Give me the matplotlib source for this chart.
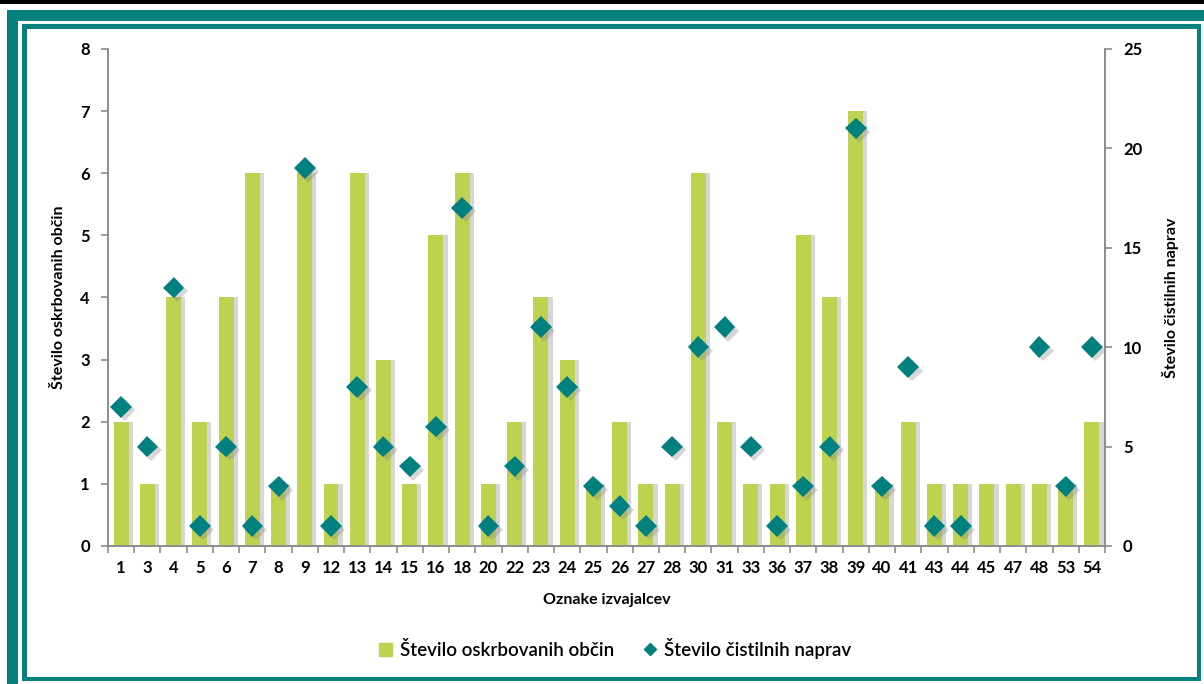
import matplotlib
matplotlib.use('Agg')
import matplotlib.pyplot as plt
import matplotlib.patheffects as pe
from matplotlib.patches import Rectangle
from matplotlib.lines import Line2D
import numpy as np

plt.rcParams['font.family'] = ['Lato', 'DejaVu Sans']

# data
labels = ['1', '3', '4', '5', '6', '7', '8', '9', '12', '13', '14', '15', '16', '18',
          '20', '22', '23', '24', '25', '26', '27', '28', '30', '31', '33', '36', '37',
          '38', '39', '40', '41', '43', '44', '45', '47', '48', '53', '54']
obcine = [2, 1, 4, 2, 4, 6, 1, 6, 1, 6, 3, 1, 5, 6,
          1, 2, 4, 3, 1, 2, 1, 1, 6, 2, 1, 1, 5,
          4, 7, 1, 2, 1, 1, 1, 1, 1, 1, 2]
naprave = [7, 5, 13, 1, 5, 1, 3, 19, 1, 8, 5, 4, 6, 17,
           1, 4, 11, 8, 3, 2, 1, 5, 10, 11, 5, 1, 3,
           5, 21, 3, 9, 1, 1, np.nan, np.nan, 10, 3, 10]

bar_color = '#BDD34F'
dia_color = '#00807F'
teal = '#06807D'
axis_gray = '#8C8C8C'

fig = plt.figure(figsize=(12.04, 6.84), dpi=100)

# frame around the figure (pixel coordinates, filled strips)
W, H = 1204, 684
def px(x0, y0, x1, y1, c):
    fig.patches.append(Rectangle((x0 / W, 1 - y1 / H), (x1 - x0) / W, (y1 - y0) / H,
                                 transform=fig.transFigure, color=c, lw=0))
px(0, 0, 1204, 4, 'black')
# outer thick border
px(7, 10, 1204, 21, teal)
px(7, 10, 18, 684, teal)
# inner thin border
px(22, 24, 1201, 29, teal)
px(22, 24, 27, 681, teal)
px(1197, 24, 1201, 681, teal)
px(22, 677, 1201, 681, teal)

ax = fig.add_axes([0.0897, 0.2018, 0.8281, 0.7266])
ax2 = ax.twinx()

x = np.arange(len(labels))
shadow = [pe.SimplePatchShadow(offset=(3, 0), shadow_rgbFace='#8a8a8a', alpha=0.35), pe.Normal()]
ax.bar(x, obcine, width=0.57, color=bar_color, zorder=2, path_effects=shadow)
ax2.plot(x, naprave, linestyle='none', marker='D', markersize=11, color=dia_color,
         markeredgewidth=0, zorder=3,
         path_effects=[pe.SimplePatchShadow(offset=(2.5, -2.5), shadow_rgbFace='#8a8a8a', alpha=0.35),
                       pe.Normal()])
ax.set_zorder(1)
ax2.set_zorder(2)
ax.patch.set_visible(False)

ax.set_xlim(-0.5, len(labels) - 0.5)
ax.set_ylim(0, 8)
ax2.set_ylim(0, 25)
ax.set_yticks(range(0, 9))
ax2.set_yticks(range(0, 26, 5))

ax.set_xticks(x)
ax.set_xticklabels(labels, fontsize=12, fontweight='bold')
ax.set_xticks(np.arange(-0.5, len(labels), 1), minor=True)
ax.tick_params(axis='x', which='major', length=0, pad=10)
ax.tick_params(axis='x', which='minor', length=5, color=axis_gray, width=1.2)
ax.tick_params(axis='y', length=5, color=axis_gray, width=1.2, pad=8)
ax2.tick_params(axis='y', length=5, color=axis_gray, width=1.2, pad=8)
for t in ax.get_yticklabels() + ax2.get_yticklabels():
    t.set_fontsize(12)
    t.set_fontweight('bold')

for a in (ax, ax2):
    a.spines['top'].set_visible(False)
    for s in ('left', 'right', 'bottom'):
        a.spines[s].set_color(axis_gray)
        a.spines[s].set_linewidth(1.2)

ax.set_xlabel('Oznake izvajalcev', fontsize=11.5, fontweight='bold', labelpad=12)
ax.set_ylabel('Število oskrbovanih občin', fontsize=11.5, fontweight='bold', labelpad=10)
ax2.set_ylabel('Število čistilnih naprav', fontsize=11.5, fontweight='bold', labelpad=14)

handles = [Rectangle((0, 0), 1, 1, color=bar_color),
           Line2D([], [], linestyle='none', marker='D', markersize=6, color=dia_color)]
fig.legend(handles, ['Število oskrbovanih občin', 'Število čistilnih naprav'],
           loc='center', bbox_to_anchor=(0.511, 0.052), ncol=2, frameon=False,
           prop={'size': 13.5, 'weight': 'semibold'}, handlelength=0.7, handleheight=0.7,
           handletextpad=0.4, columnspacing=1.6)

fig.savefig('out.png', dpi=100)
